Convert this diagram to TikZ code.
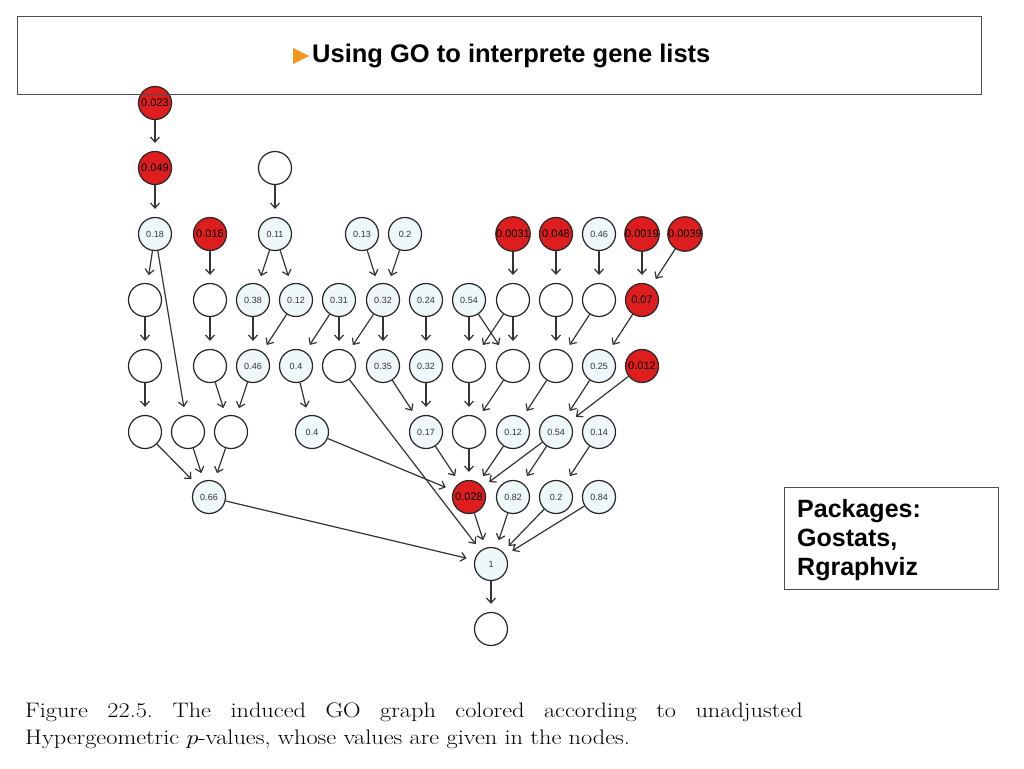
\documentclass[tikz,border=0pt]{standalone}
\usepackage{fontspec}
\usetikzlibrary{arrows.meta}
\newfontfamily\arialfont{Liberation Sans}
\definecolor{sigred}{RGB}{222,30,30}
\definecolor{paleblue}{RGB}{238,247,250}
\definecolor{bulletorange}{RGB}{247,148,30}
\newcommand\capscale{1.157}

\begin{document}
\begin{tikzpicture}[x=1pt,y=-1pt,
  go/.style={circle,draw=black!85,line width=1.2pt,minimum size=33pt,inner sep=0pt,fill=white,
    font=\arialfont\fontsize{9}{9}\selectfont,text=black!80},
  pv/.style={go,fill=paleblue},
  sig/.style={go,fill=sigred,text=black,font=\arialfont\fontsize{11}{11}\selectfont},
  edge/.style={draw=black!80,line width=1.2pt,-{Straight Barb[length=5pt,width=9pt]},shorten >=8pt}]
\useasboundingbox (0,0) rectangle (1024,768);
% GO graph, rows top to bottom
\node[sig] (a1) at (155,103) {0.023};
\node[sig] (b1) at (155,168) {0.049};
\node[go]  (b2) at (275,168) {};
\node[pv]  (c1) at (155,234) {0.18};
\node[sig] (c2) at (210,234) {0.016};
\node[pv]  (c3) at (275,234) {0.11};
\node[pv]  (c4) at (362,234) {0.13};
\node[pv]  (c5) at (405,234) {0.2};
\node[sig] (c6) at (513,234) {0.0031};
\node[sig] (c7) at (556,234) {0.048};
\node[pv]  (c8) at (599,234) {0.46};
\node[sig] (c9) at (642,234) {0.0019};
\node[sig] (c10) at (685,234) {0.0039};
\node[go]  (d1) at (145,300) {};
\node[go]  (d2) at (210,300) {};
\node[pv]  (d3) at (253,300) {0.38};
\node[pv]  (d4) at (296,300) {0.12};
\node[pv]  (d5) at (339,300) {0.31};
\node[pv]  (d6) at (383,300) {0.32};
\node[pv]  (d7) at (426,300) {0.24};
\node[pv]  (d8) at (469,300) {0.54};
\node[go]  (d9) at (513,300) {};
\node[go]  (d10) at (556,300) {};
\node[go]  (d11) at (599,300) {};
\node[sig] (d12) at (642,300) {0.07};
\node[go]  (e1) at (145,366) {};
\node[go]  (e2) at (210,366) {};
\node[pv]  (e3) at (253,366) {0.46};
\node[pv]  (e4) at (296,366) {0.4};
\node[go]  (e5) at (339,366) {};
\node[pv]  (e6) at (383,366) {0.35};
\node[pv]  (e7) at (426,366) {0.32};
\node[go]  (e8) at (469,366) {};
\node[go]  (e9) at (513,366) {};
\node[go]  (e10) at (556,366) {};
\node[pv]  (e11) at (599,366) {0.25};
\node[sig] (e12) at (642,366) {0.012};
\node[go]  (f1) at (145,432) {};
\node[go]  (f2) at (188,432) {};
\node[go]  (f3) at (231,432) {};
\node[pv]  (f4) at (312,432) {0.4};
\node[pv]  (f5) at (426,432) {0.17};
\node[go]  (f6) at (469,432) {};
\node[pv]  (f7) at (513,432) {0.12};
\node[pv]  (f8) at (556,432) {0.54};
\node[pv]  (f9) at (599,432) {0.14};
\node[pv]  (g1) at (209,497) {0.66};
\node[sig] (g2) at (469,497) {0.028};
\node[pv]  (g3) at (513,497) {0.82};
\node[pv]  (g4) at (556,497) {0.2};
\node[pv]  (g5) at (599,497) {0.84};
\node[pv]  (h1) at (491,564) {1};
\node[go]  (i1) at (491,629) {};
\foreach \a/\b in {a1/b1,b1/c1,b2/c3,c1/d1,c1/f2,c2/d2,c3/d3,c3/d4,c4/d6,c5/d6,
    c6/d9,c7/d10,c8/d11,c9/d12,c10/d12,
    d1/e1,d2/e2,d3/e3,d4/e3,d5/e4,d5/e5,d6/e5,d6/e6,d7/e7,d8/e8,d8/e9,d9/e8,d9/e9,
    d10/e10,d11/e10,d12/e11,
    e1/f1,e2/f3,e3/f3,e4/f4,e5/h1,e6/f5,e7/f5,e8/f6,e9/f6,e10/f7,e11/f8,e12/f8,
    f1/g1,f2/g1,f3/g1,f4/g2,f5/g2,f6/g2,f7/g2,f8/g2,f8/g3,f9/g4,
    g1/h1,g2/h1,g3/h1,g4/h1,g5/h1,h1/i1}
  \draw[edge] (\a) -- (\b);
% slide title
\draw[black!70,line width=1pt] (17,17) rectangle (981,94);
\fill[bulletorange] (293,48) -- (309,56) -- (293,64) -- cycle;
\node[anchor=base west,inner sep=0pt,font=\arialfont\bfseries\fontsize{25.5}{30}\selectfont] (title) at (312,63) {Using GO to interprete gene lists};
% packages box
\draw[black!70,line width=1pt] (784,487) rectangle (998,589);
\node[anchor=base west,inner sep=0pt,align=left,font=\arialfont\bfseries\fontsize{25}{29}\selectfont] (pkgs) at (797,575) {Packages:\\Gostats,\\Rgraphviz};
% caption
\node[anchor=base west,inner sep=0pt,font=\fontsize{21}{25}\selectfont\frenchspacing] (cap1) at (25,717)
  {\scalebox{\capscale}[1]{\makebox[672pt][s]{Figure 22.5. The induced GO graph colored according to unadjusted}}};
\node[anchor=base west,inner sep=0pt,font=\fontsize{21}{25}\selectfont] (cap2) at (25,744)
  {\scalebox{\capscale}[1]{Hypergeometric $p$-values, whose values are given in the nodes.}};
\end{tikzpicture}
\end{document}
